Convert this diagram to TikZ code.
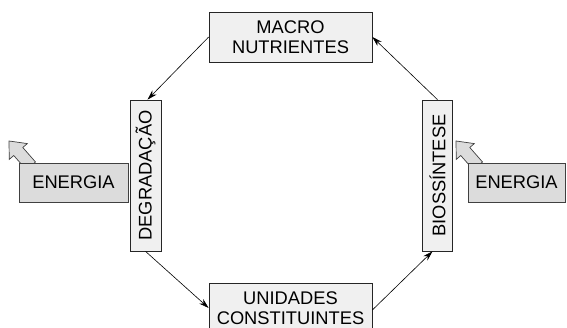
\documentclass[tikz,border=0pt]{standalone}
\usepackage{fontspec}
\setmainfont{Liberation Sans}
\usetikzlibrary{arrows.meta,calc}
\definecolor{boxfill}{HTML}{F0F0F0}
\definecolor{enfill}{HTML}{DCDCDC}
\begin{document}
\begin{tikzpicture}[x=1pt,y=-1pt,
  box/.style={draw=black!85, fill=boxfill, line width=0.7pt, inner sep=0pt, align=center, font=\fontsize{18.3}{20}\selectfont},
  enbox/.style={draw=black!75, fill=enfill, line width=0.8pt, inner sep=0pt, font=\fontsize{18.3}{20}\selectfont},
  conn/.style={-{Stealth[length=10pt,width=6pt]}, line width=0.6pt},
  hollow/.style={draw=black!75, fill=enfill, line width=0.7pt, line join=miter}]
\useasboundingbox (0,0) rectangle (567,328);
\node[box, minimum width=163pt, minimum height=50pt] (macro) at (290.5,37) {MACRO\\NUTRIENTES};
\node[box, minimum width=163pt, minimum height=50pt] (unid) at (290.5,308) {UNIDADES\\CONSTITUINTES};
\node[box, rotate=90, minimum width=151pt, minimum height=31pt] (degr) at (145.5,175.5) {DEGRADAÇÃO};
\node[box, rotate=90, minimum width=151pt, minimum height=30pt] (bio) at (437.5,175.5) {BIOSSÍNTESE};
% hollow energy arrows
\draw[hollow] (35.5,162.0) -- (22.8,147.5) -- (27.3,143.6) -- (9,141) -- (9.25,159.4) -- (13.75,155.5) -- (26.5,170) -- cycle;
\node[enbox, minimum width=109pt, minimum height=39pt] (enl) at (73.5,182.5) {ENERGIA};
\begin{scope}[xshift=447pt]
\draw[hollow] (35.5,162.0) -- (22.8,147.5) -- (27.3,143.6) -- (9,141) -- (9.25,159.4) -- (13.75,155.5) -- (26.5,170) -- cycle;
\end{scope}
\node[enbox, minimum width=97pt, minimum height=39pt] (enr) at (516.5,182.5) {ENERGIA};
% cycle connectors
\draw[conn] (macro.west) -- ($(degr.east)+(2,0)$);
\draw[conn] (degr.west) -- (unid.west);
\draw[conn] ($(unid.east)+(0,2)$) -- ($(bio.west)+(-5,0)$);
\draw[conn] (bio.east) -- (macro.east);
\end{tikzpicture}
\end{document}
